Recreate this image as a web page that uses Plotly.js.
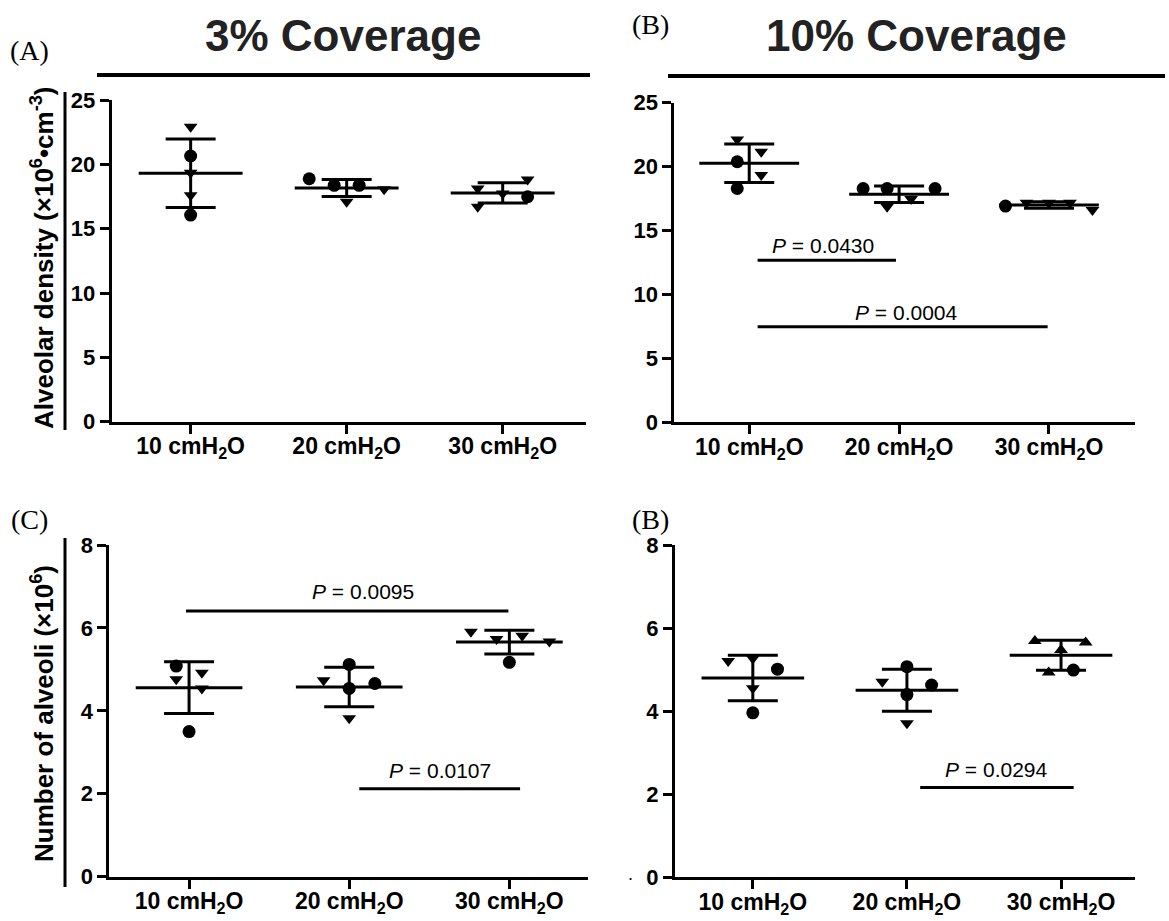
<!DOCTYPE html>
<html><head><meta charset="utf-8">
<script src="https://cdn.plot.ly/plotly-3.0.1.min.js"></script>
<style>html,body{margin:0;padding:0;background:#fff}#chart{width:1169px;height:921px}</style>
</head><body><div id="chart"></div>
<script>
// ---------- data ----------
const categories = ['10 cmH<sub>2</sub>O', '20 cmH<sub>2</sub>O', '30 cmH<sub>2</sub>O'];
const panelLabels = ['(A)', '(B)', '(C)', '(B)'];
const columnTitles = ['3% Coverage', '10% Coverage'];
const densityTitle = 'Alveolar density (×10<sup>6</sup>•cm<sup>-3</sup>)';
const alveoliTitle = 'Number of alveoli (×10<sup>6</sup>)';

// Alveolar density, 3% coverage (per pressure group)
const densityCov3 = [[22.92, 20.65, 19.35, 17.6, 16.06], [18.88, 18.37, 18.37, 18.06, 17.1], [18.13, 18.83, 17.74, 16.7, 17.48]];
const densityCov3Marks = [['v','c','v','v','c'], ['c','c','c','v','v'], ['v','v','v','v','c']];
const densityCov3Jitter = [[0,0,0,0,0], [-0.24,-0.08,0.08,0.24,0], [-0.16,0.16,0,-0.16,0.16]];

// Alveolar density, 10% coverage
const densityCov10 = [[22.13, 21.16, 20.38, 19.34, 18.29], [18.29, 18.29, 18.29, 16.86, 17.46], [16.91, 17.17, 17.17, 17.17, 16.6]];
const densityCov10Marks = [['v','v','c','v','c'], ['c','c','c','v','v'], ['c','v','v','v','v']];
const densityCov10Jitter = [[-0.08,0.08,-0.08,0.08,-0.08], [-0.24,-0.08,0.24,-0.08,0.08], [-0.29,-0.15,0,0.14,0.29]];
const densityCov10PValues = ['0.0430', '0.0004'];

// Number of alveoli, 3% coverage
const alveoliCov3 = [[5.08, 4.76, 4.92, 4.54, 3.5], [4.74, 5.12, 4.54, 4.66, 3.82], [5.91, 5.73, 5.81, 5.67, 5.17]];
const alveoliCov3Marks = [['c','v','v','v','c'], ['v','c','c','c','v'], ['v','v','v','v','c']];
const alveoliCov3Jitter = [[-0.08,-0.08,0.08,0.08,0], [-0.16,0,0,0.16,0], [-0.24,-0.08,0.08,0.25,0]];
const alveoliCov3PValues = ['0.0095', '0.0107'];

// Number of alveoli, 10% coverage
const alveoliCov10 = [[5.21, 5.27, 5.01, 4.55, 3.96], [4.71, 5.07, 4.63, 4.4, 3.71], [5.69, 5.65, 5.47, 4.93, 4.99]];
const alveoliCov10Marks = [['v','v','c','v','c'], ['v','c','c','c','v'], ['^','^','^','^','c']];
const alveoliCov10Jitter = [[-0.16,0,0.16,0,0], [-0.16,0,0.16,0,0], [-0.17,0.16,0,-0.08,0.08]];
const alveoliCov10PValues = ['0.0294'];

// ---------- drawing ----------
const W = 1169, H = 921;
const px = v => v / W;
const py = v => 1 - v / H;
const SANS = 'Liberation Sans, Arial, Helvetica, sans-serif';
const SERIF = 'Liberation Serif, Times New Roman, serif';
const symbolOf = {c: 'circle', v: 'triangle-down', '^': 'triangle-up'};
const sizeOf = {c: 13, v: 12, '^': 12};

const panels = [
  {vals: densityCov3, marks: densityCov3Marks, jit: densityCov3Jitter, xd: [111.7, 586], yd: [100, 421.7], xr: [-0.506, 2.534], yr: [0, 25], dt: 5,
   brackets: []},
  {vals: densityCov10, marks: densityCov10Marks, jit: densityCov10Jitter, xd: [674.3, 1135], yd: [102.7, 422.3], xr: [-0.5, 2.574], yr: [0, 25], dt: 5,
   brackets: [{p: densityCov10PValues[0], x0: 0.056, x1: 0.979, y: 12.67, tx: 0.494, ty: 13.86},
              {p: densityCov10PValues[1], x0: 0.056, x1: 1.991, y: 7.47, tx: 1.05, ty: 8.62}]},
  {vals: alveoliCov3, marks: alveoliCov3Marks, jit: alveoliCov3Jitter, xd: [109.3, 588], yd: [545, 876.7], xr: [-0.498, 2.491], yr: [0, 8], dt: 2,
   brackets: [{p: alveoliCov3PValues[0], x0: -0.019, x1: 1.994, y: 6.41, tx: 1.088, ty: 6.87},
              {p: alveoliCov3PValues[1], x0: 1.063, x1: 2.067, y: 2.12, tx: 1.567, ty: 2.57}]},
  {vals: alveoliCov10, marks: alveoliCov10Marks, jit: alveoliCov10Jitter, xd: [675, 1135], yd: [545, 877.3], xr: [-0.505, 2.48], yr: [0, 8], dt: 2,
   brackets: [{p: alveoliCov10PValues[0], x0: 1.086, x1: 2.082, y: 2.16, tx: 1.584, ty: 2.60}]}
];

const traces = [];
const layout = {
  width: W, height: H, margin: {l: 0, r: 0, t: 0, b: 0},
  paper_bgcolor: '#fff', plot_bgcolor: 'rgba(0,0,0,0)',
  showlegend: false, hovermode: false,
  font: {family: SANS, color: '#000'},
  shapes: [], annotations: []
};

function mean(a) { return a.reduce((s, v) => s + v, 0) / a.length; }
function sd(a) { const m = mean(a); return Math.sqrt(a.reduce((s, v) => s + (v - m) * (v - m), 0) / (a.length - 1)); }

panels.forEach((p, k) => {
  const n = k === 0 ? '' : String(k + 1);
  const xa = 'x' + n, ya = 'y' + n;
  const ticks = [];
  for (let t = p.yr[0]; t <= p.yr[1] + 1e-9; t += p.dt) ticks.push(t);
  layout['xaxis' + n] = {
    domain: [px(p.xd[0]), px(p.xd[1])], range: p.xr, anchor: ya,
    showline: true, linewidth: 3, linecolor: '#000', ticks: 'outside', ticklen: 9, tickwidth: 3, tickcolor: '#000',
    tickvals: [0, 1, 2], ticktext: categories, showgrid: false, zeroline: false, ticklabelstandoff: -7,
    tickfont: {family: SANS, size: 23, weight: 700, color: '#000'}, fixedrange: true
  };
  layout['yaxis' + n] = {
    domain: [py(p.yd[1]), py(p.yd[0])], range: p.yr, anchor: xa,
    showline: true, linewidth: 3, linecolor: '#000', ticks: 'outside', ticklen: 9, tickwidth: 3, tickcolor: '#000',
    tickvals: ticks, showgrid: false, zeroline: false,
    tickfont: {family: SANS, size: 22, weight: 700, color: '#000'}, fixedrange: true
  };
  p.vals.forEach((g, i) => {
    // mean ± SD bars
    traces.push({
      type: 'scatter', mode: 'markers', xaxis: xa, yaxis: ya, cliponaxis: false,
      x: [i], y: [mean(g)], marker: {size: 1, color: 'rgba(0,0,0,0)'},
      error_x: {type: 'constant', value: 0.333, width: 0, thickness: 3, color: '#000'},
      error_y: {type: 'data', array: [sd(g)], width: 25, thickness: 3, color: '#000'}
    });
    // individual points
    traces.push({
      type: 'scatter', mode: 'markers', xaxis: xa, yaxis: ya, cliponaxis: false,
      x: g.map((v, j) => i + p.jit[i][j]), y: g,
      marker: {symbol: p.marks[i].map(m => symbolOf[m]), size: p.marks[i].map(m => sizeOf[m]), color: '#000', opacity: 1, line: {width: 0}}
    });
  });
  p.brackets.forEach(b => {
    layout.shapes.push({type: 'line', xref: xa, yref: ya, x0: b.x0, x1: b.x1, y0: b.y, y1: b.y, line: {color: '#000', width: 3}});
    layout.annotations.push({xref: xa, yref: ya, x: b.tx, y: b.ty, showarrow: false, xanchor: 'center', yanchor: 'middle',
      text: '<i>P</i> = ' + b.p, font: {family: SANS, size: 21, color: '#000'}});
  });
});

// side lines next to y-axes
layout.shapes.push({type: 'line', xref: 'paper', yref: 'paper', x0: px(65), x1: px(65), y0: py(92), y1: py(430), line: {color: '#000', width: 3}});
layout.shapes.push({type: 'line', xref: 'paper', yref: 'paper', x0: px(65), x1: px(65), y0: py(538), y1: py(887), line: {color: '#000', width: 3}});
// column title underlines
layout.shapes.push({type: 'line', xref: 'paper', yref: 'paper', x0: px(97), x1: px(590), y0: py(75), y1: py(75), line: {color: '#000', width: 4}});
layout.shapes.push({type: 'line', xref: 'paper', yref: 'paper', x0: px(668), x1: px(1165), y0: py(76), y1: py(76), line: {color: '#000', width: 4}});

// column titles
[[343, 35], [916, 35]].forEach((c, i) => layout.annotations.push({xref: 'paper', yref: 'paper', x: px(c[0]), y: py(c[1]),
  showarrow: false, xanchor: 'center', yanchor: 'middle', text: columnTitles[i], font: {family: SANS, size: 44, weight: 700, color: '#222'}}));
// panel letters
[[29, 50], [651, 24], [29, 519], [651, 519]].forEach((c, i) => layout.annotations.push({xref: 'paper', yref: 'paper', x: px(c[0]), y: py(c[1]),
  showarrow: false, xanchor: 'center', yanchor: 'middle', text: panelLabels[i], font: {family: SERIF, size: 28, color: '#000'}}));
// y-axis titles
layout.annotations.push({xref: 'paper', yref: 'paper', x: px(42), y: py(258), showarrow: false, textangle: -90,
  xanchor: 'center', yanchor: 'middle', text: densityTitle, font: {family: SANS, size: 26, weight: 700, color: '#000'}});
layout.annotations.push({xref: 'paper', yref: 'paper', x: px(42), y: py(714), showarrow: false, textangle: -90,
  xanchor: 'center', yanchor: 'middle', text: alveoliTitle, font: {family: SANS, size: 26, weight: 700, color: '#000'}});
// stray dot near lower-right axis
layout.annotations.push({xref: 'paper', yref: 'paper', x: px(630), y: py(874), showarrow: false,
  xanchor: 'center', yanchor: 'middle', text: '.', font: {family: SANS, size: 18, color: '#000'}});

Plotly.newPlot('chart', traces, layout, {displayModeBar: false, staticPlot: true});
</script></body></html>
